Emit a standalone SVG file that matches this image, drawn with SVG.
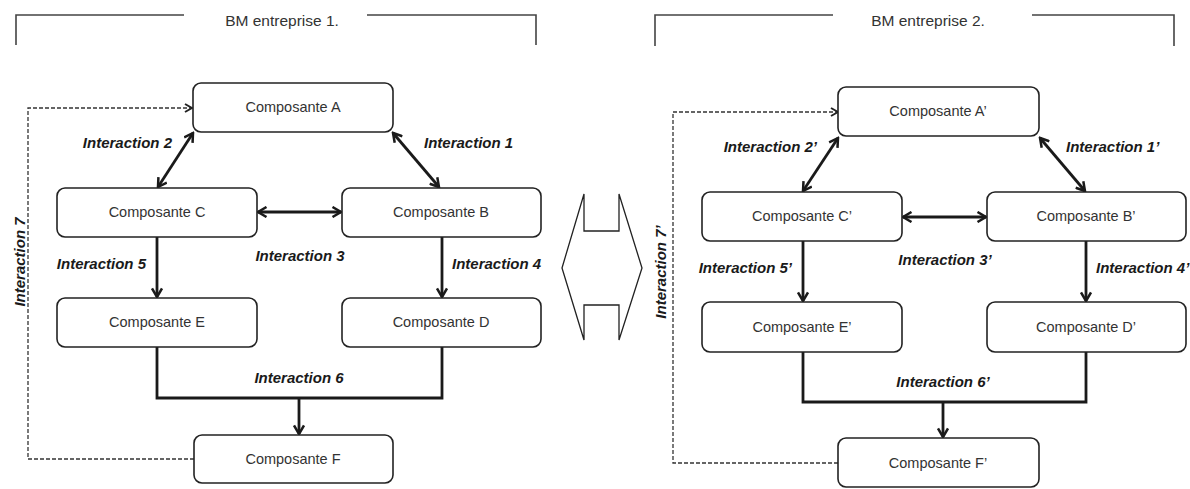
<svg xmlns="http://www.w3.org/2000/svg" width="1190" height="489" viewBox="0 0 1190 489">
<defs>
<style>
.box{fill:#fff;stroke:#222;stroke-width:1.6}
.lbl{font-family:"Liberation Sans",Arial,sans-serif;font-size:14.5px;fill:#333;text-anchor:middle}
.hdr{font-family:"Liberation Sans",Arial,sans-serif;font-size:15.5px;fill:#333;text-anchor:middle}
.it{font-family:"Liberation Sans",Arial,sans-serif;font-size:15px;font-weight:bold;font-style:italic;fill:#1a1a1a}
.con{fill:none;stroke:#1a1a1a;stroke-width:2.8}
.dash{fill:none;stroke:#333;stroke-width:1.3;stroke-dasharray:4 2}
.brk{fill:none;stroke:#444;stroke-width:1.6}
</style>
<marker id="ah" viewBox="0 0 12 12" refX="10" refY="6" markerWidth="12" markerHeight="12" markerUnits="userSpaceOnUse" orient="auto-start-reverse">
<path d="M1.5,1 L10,6 L1.5,11" fill="none" stroke="#1a1a1a" stroke-width="2.5"/>
</marker>
<marker id="ahd" viewBox="0 0 10 10" refX="9" refY="5" markerWidth="10" markerHeight="10" markerUnits="userSpaceOnUse" orient="auto">
<path d="M2,1 L9,5 L2,9" fill="none" stroke="#222" stroke-width="2"/>
</marker>
</defs>
<rect width="1190" height="489" fill="#fff"/>

<g id="header1">
<path class="brk" d="M16,45 V15 H184 M367,15 H536 V45"/>
<text class="hdr" x="282" y="26">BM entreprise 1.</text>
</g>
<g id="header2">
<path class="brk" d="M655,46 V15 H833 M1032,15 H1174 V46"/>
<text class="hdr" x="928" y="26">BM entreprise 2.</text>
</g>

<g id="connectors">
<path class="con" d="M193,133 L158,187" marker-start="url(#ah)" marker-end="url(#ah)"/>
<path class="con" d="M393,133 L439,187" marker-start="url(#ah)" marker-end="url(#ah)"/>
<path class="con" d="M258,212 L341,212" marker-start="url(#ah)" marker-end="url(#ah)"/>
<path class="con" d="M157,237 V297" marker-end="url(#ah)"/>
<path class="con" d="M442,237 V297" marker-end="url(#ah)"/>
<path class="con" d="M157,347 V398 H442 V347"/>
<path class="con" d="M299,398 V434" marker-end="url(#ah)"/>
<path class="dash" d="M194,459 H28 V108 H192" marker-end="url(#ahd)"/>
<text class="it" x="172" y="148" text-anchor="end">Interaction 2</text>
<text class="it" x="424" y="148">Interaction 1</text>
<text class="it" x="300" y="261" text-anchor="middle">Interaction 3</text>
<text class="it" x="146" y="269" text-anchor="end">Interaction 5</text>
<text class="it" x="452" y="269">Interaction 4</text>
<text class="it" x="299" y="383" text-anchor="middle">Interaction 6</text>
<text class="it" text-anchor="middle" transform="translate(25,262) rotate(-90)">Interaction 7</text>

<path class="con" d="M838,138 L803,191" marker-start="url(#ah)" marker-end="url(#ah)"/>
<path class="con" d="M1040,138 L1085,191" marker-start="url(#ah)" marker-end="url(#ah)"/>
<path class="con" d="M903,217 L986,217" marker-start="url(#ah)" marker-end="url(#ah)"/>
<path class="con" d="M803,241 V301" marker-end="url(#ah)"/>
<path class="con" d="M1086,241 V301" marker-end="url(#ah)"/>
<path class="con" d="M803,352 V402 H1086 V352"/>
<path class="con" d="M943,402 V437" marker-end="url(#ah)"/>
<path class="dash" d="M838,463 H673 V112 H838" marker-end="url(#ahd)"/>
<text class="it" x="817" y="152" text-anchor="end">Interaction 2’</text>
<text class="it" x="1066" y="152">Interaction 1’</text>
<text class="it" x="945" y="265" text-anchor="middle">Interaction 3’</text>
<text class="it" x="792" y="273" text-anchor="end">Interaction 5’</text>
<text class="it" x="1096" y="273">Interaction 4’</text>
<text class="it" x="943" y="387" text-anchor="middle">Interaction 6’</text>
<text class="it" text-anchor="middle" transform="translate(666,272) rotate(-90)">Interaction 7’</text>

<polygon points="584,194 584,231 619,231 619,194 642,268 619,340 619,305 584,305 584,340 562,268" fill="none" stroke="#222" stroke-width="1.3"/>
</g>

<g id="nodeA"><rect class="box" x="193" y="83" width="200" height="49" rx="8"/><text class="lbl" x="293" y="112">Composante A</text></g>
<g id="nodeC"><rect class="box" x="57" y="188" width="200" height="49" rx="8"/><text class="lbl" x="157" y="217">Composante C</text></g>
<g id="nodeB"><rect class="box" x="342" y="188" width="199" height="49" rx="8"/><text class="lbl" x="441" y="217">Composante B</text></g>
<g id="nodeE"><rect class="box" x="57" y="298" width="200" height="49" rx="8"/><text class="lbl" x="157" y="327">Composante E</text></g>
<g id="nodeD"><rect class="box" x="342" y="298" width="199" height="49" rx="8"/><text class="lbl" x="441" y="327">Composante D</text></g>
<g id="nodeF"><rect class="box" x="194" y="435" width="199" height="48" rx="8"/><text class="lbl" x="293" y="464">Composante F</text></g>

<g id="nodeA2"><rect class="box" x="838" y="87" width="201" height="49" rx="8"/><text class="lbl" x="938" y="116">Composante A’</text></g>
<g id="nodeC2"><rect class="box" x="702" y="192" width="200" height="49" rx="8"/><text class="lbl" x="802" y="221">Composante C’</text></g>
<g id="nodeB2"><rect class="box" x="987" y="192" width="199" height="49" rx="8"/><text class="lbl" x="1086" y="221">Composante B’</text></g>
<g id="nodeE2"><rect class="box" x="702" y="302" width="200" height="50" rx="8"/><text class="lbl" x="802" y="332">Composante E’</text></g>
<g id="nodeD2"><rect class="box" x="987" y="302" width="199" height="50" rx="8"/><text class="lbl" x="1086" y="332">Composante D’</text></g>
<g id="nodeF2"><rect class="box" x="838" y="438" width="201" height="49" rx="8"/><text class="lbl" x="938" y="468">Composante F’</text></g>
</svg>
